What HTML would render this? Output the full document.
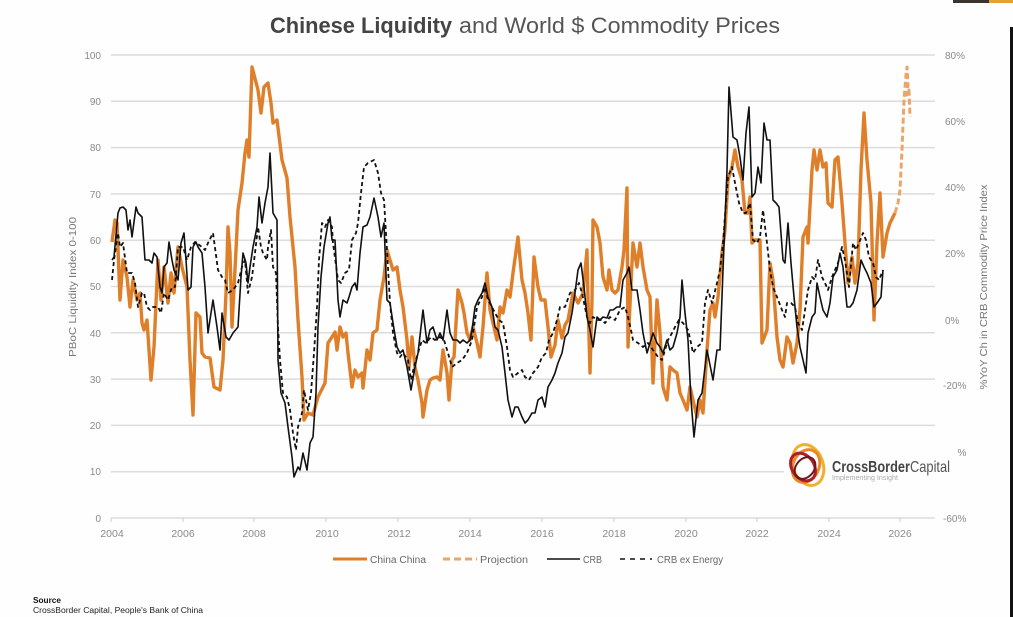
<!DOCTYPE html>
<html><head><meta charset="utf-8"><style>
html,body{margin:0;padding:0;background:#fefefe;}
svg{display:block;font-family:"Liberation Sans",sans-serif;}
</style></head><body>
<svg width="1013" height="617" viewBox="0 0 1013 617" xmlns="http://www.w3.org/2000/svg">
<rect width="1013" height="617" fill="#fefefe"/>
<!-- top-right artifacts -->
<rect x="953" y="0" width="36" height="3" fill="#3a3530"/>
<rect x="989" y="0" width="24" height="3" fill="#e8a030"/>
<rect x="1010" y="27" width="3" height="590" fill="#111"/>

<!-- title -->
<text x="270" y="33" font-size="22" font-weight="bold" fill="#444" textLength="182" lengthAdjust="spacingAndGlyphs">Chinese Liquidity</text>
<text x="459" y="33" font-size="22" fill="#555" textLength="321" lengthAdjust="spacingAndGlyphs">and World $ Commodity Prices</text>

<!-- gridlines -->
<g stroke="#dcdcdc" stroke-width="1.5">
<line x1="111" y1="55" x2="935" y2="55"/>
<line x1="111" y1="101.3" x2="935" y2="101.3"/>
<line x1="111" y1="147.6" x2="935" y2="147.6"/>
<line x1="111" y1="193.9" x2="935" y2="193.9"/>
<line x1="111" y1="240.2" x2="935" y2="240.2"/>
<line x1="111" y1="286.5" x2="935" y2="286.5"/>
<line x1="111" y1="332.8" x2="935" y2="332.8"/>
<line x1="111" y1="379.1" x2="935" y2="379.1"/>
<line x1="111" y1="425.4" x2="935" y2="425.4"/>
<line x1="111" y1="471.7" x2="935" y2="471.7"/>
<line x1="111" y1="518" x2="935" y2="518"/>
</g>
<g stroke="#cfcfcf" stroke-width="1">
<line x1="111" y1="518" x2="111" y2="522"/><line x1="183" y1="518" x2="183" y2="522"/>
<line x1="254" y1="518" x2="254" y2="522"/><line x1="326" y1="518" x2="326" y2="522"/>
<line x1="398" y1="518" x2="398" y2="522"/><line x1="470" y1="518" x2="470" y2="522"/>
<line x1="542" y1="518" x2="542" y2="522"/><line x1="614" y1="518" x2="614" y2="522"/>
<line x1="686" y1="518" x2="686" y2="522"/><line x1="757" y1="518" x2="757" y2="522"/>
<line x1="829" y1="518" x2="829" y2="522"/><line x1="900" y1="518" x2="900" y2="522"/>
</g>

<!-- left ticks -->
<g font-size="10" fill="#8a8a8a" text-anchor="end">
<text x="101" y="59">100</text><text x="101" y="105">90</text><text x="101" y="151">80</text>
<text x="101" y="198">70</text><text x="101" y="244">60</text><text x="101" y="290">50</text>
<text x="101" y="337">40</text><text x="101" y="383">30</text><text x="101" y="429">20</text>
<text x="101" y="475">10</text><text x="101" y="522">0</text>
</g>
<!-- right ticks -->
<g font-size="10" fill="#8a8a8a">
<text x="945" y="59">80%</text><text x="945" y="125">60%</text><text x="945" y="191">40%</text>
<text x="945" y="257">20%</text><text x="945" y="324">0%</text><text x="943" y="389">-20%</text>
<text x="943" y="456">-40%</text><text x="943" y="522">-60%</text>
</g>
<!-- x ticks -->
<g font-size="10.5" fill="#8a8a8a" text-anchor="middle">
<text x="112" y="537">2004</text><text x="183" y="537">2006</text><text x="254" y="537">2008</text>
<text x="327" y="537">2010</text><text x="399" y="537">2012</text><text x="470" y="537">2014</text>
<text x="542" y="537">2016</text><text x="614" y="537">2018</text><text x="686" y="537">2020</text>
<text x="757" y="537">2022</text><text x="829" y="537">2024</text><text x="900" y="537">2026</text>
</g>
<!-- axis titles -->
<text transform="translate(76,287) rotate(-90)" font-size="10" fill="#777" text-anchor="middle" textLength="140" lengthAdjust="spacingAndGlyphs">PBoC Liquidity Index 0-100</text>
<text transform="translate(987,287) rotate(-90)" font-size="10.5" fill="#777" text-anchor="middle" textLength="205" lengthAdjust="spacingAndGlyphs">%YoY Ch in CRB Commodity Price Index</text>

<!-- orange China liquidity -->
<polyline fill="none" stroke="#df7f2a" stroke-width="3.4" stroke-linejoin="round" points="112,242 115,220 117,223 120,300 123,260 127,277 130,307 133,280 137,300 140,293 142,323 144,330 147,320 151,380 154,347 158,260 161,300 164,267 168,303 171,273 174,293 178,247 182,267 187,287 190,360 193,415 196,313 200,317 202,353 205,357 210,358 214,387 220,390 223,360 226,293 228,227 230,253 232,327 236,250 238,210 242,183 245,153 247,140 249,157 252,67 258,90 261,113 264,87 268,83 271,103 273,123 277,120 282,160 287,178 290,217 295,267 298,320 302,377 304,420 308,413 313,415 318,397 325,383 328,343 332,337 335,332 337,350 340,327 343,337 346,333 348,353 352,387 355,370 358,377 362,373 363,388 367,350 370,360 373,333 377,330 380,300 384,277 387,250 390,260 393,270 397,267 400,290 403,307 407,340 409,367 412,337 415,367 418,380 422,403 423,417 427,390 430,380 433,378 437,377 440,380 443,350 447,373 449,400 452,360 454,357 458,290 462,303 464,313 467,333 470,340 473,327 477,343 480,357 483,327 487,273 490,310 493,323 497,340 500,307 503,313 507,290 510,297 513,273 518,237 522,280 525,293 528,313 531,340 534,257 538,287 541,300 545,300 548,327 551,357 555,345 558,320 562,338 565,325 568,320 573,293 578,303 583,293 587,250 588,300 590,373 592,300 593,220 597,227 600,243 603,277 607,290 609,270 612,290 615,293 618,290 622,267 624,250 627,188 628,347 631,283 633,243 637,267 640,243 643,267 647,290 650,297 653,383 657,300 660,333 663,387 667,400 670,367 673,370 677,373 680,393 683,400 687,410 690,387 693,400 697,417 700,400 703,413 707,350 710,310 713,303 715,317 718,297 722,253 725,230 728,180 732,167 735,150 738,167 742,180 745,213 748,213 750,197 752,243 755,240 760,240 762,343 767,330 770,263 773,280 777,337 780,360 783,367 787,337 790,343 793,363 797,343 800,310 803,237 807,227 808,243 812,170 814,150 817,170 820,150 823,167 826,163 828,203 832,207 835,160 838,157 842,203 845,243 848,283 852,257 855,283 858,263 861,170 864,113 867,160 871,203 874,320 877,243 880,193 883,257 887,233 890,223 895,213"/>
<!-- projection -->
<polyline fill="none" stroke="#eaa56a" stroke-width="3" stroke-dasharray="6 3" stroke-linejoin="round" points="895,213 898,203 900,190 902,150 904,100 906,75 907,67 908,85 907,95 909,90 910,117"/>

<!-- CRB solid -->
<polyline fill="none" stroke="#111" stroke-width="1.6" stroke-linejoin="round" points="112,260 114,257 118,213 120,208 123,207 126,210 128,230 130,220 132,237 136,207 138,213 142,217 145,260 149,260 152,263 154,253 157,257 160,287 162,293 164,267 167,263 169,242 172,260 174,270 178,280 181,243 184,233 186,260 188,290 191,287 193,247 196,242 198,247 202,253 205,287 208,333 211,313 213,300 217,327 220,350 222,313 226,337 229,340 233,333 238,327 241,277 243,253 246,263 248,283 250,267 253,247 257,227 259,197 262,223 265,203 268,187 270,153 273,213 277,220 278,360 281,393 285,403 288,427 292,457 294,477 298,467 300,470 303,453 307,470 310,443 313,437 316,393 318,327 321,277 324,247 328,223 330,217 332,240 335,240 338,300 340,317 343,300 347,303 349,297 352,287 355,283 357,290 360,253 363,227 367,225 370,217 374,198 378,217 381,237 384,223 387,300 390,303 393,323 397,347 400,353 403,350 407,367 411,390 415,367 418,353 423,310 427,343 430,330 433,327 437,340 440,333 443,340 447,310 450,333 453,340 457,340 460,343 463,340 467,343 470,340 472,330 475,307 478,300 482,293 485,283 488,297 492,307 495,327 498,330 502,347 505,373 508,400 512,417 515,407 518,407 522,417 525,423 528,420 532,413 535,413 538,400 542,397 545,407 548,387 552,380 555,373 558,363 562,353 565,337 568,333 572,313 575,293 578,270 581,263 584,287 587,317 590,330 593,347 597,317 600,320 603,317 607,318 610,310 613,310 617,307 620,307 623,280 627,273 629,267 632,290 637,290 640,310 643,333 647,353 650,343 653,333 657,343 660,347 663,353 667,340 670,350 673,347 677,333 680,317 682,280 685,313 688,340 691,400 694,437 698,400 702,393 707,350 713,380 717,350 720,350 723,270 727,170 729,87 733,137 737,140 740,157 743,180 746,133 749,107 752,197 755,193 758,167 761,183 764,123 767,140 770,140 773,200 776,203 779,207 783,260 785,263 788,223 791,263 794,297 797,327 800,347 803,360 806,373 808,333 812,317 815,313 817,283 820,297 823,310 827,317 830,303 833,277 837,270 840,253 843,267 847,307 850,307 853,303 857,290 861,260 864,267 867,273 871,283 874,307 877,303 881,297 883,270"/>

<!-- CRB ex energy dashed -->
<polyline fill="none" stroke="#111" stroke-width="1.8" stroke-dasharray="4 3" stroke-linejoin="round" points="112,280 114,260 118,233 120,247 123,243 127,273 132,273 135,283 138,307 142,293 144,293 147,307 150,310 153,307 158,307 161,313 164,293 168,300 172,287 175,287 178,247 183,247 187,260 191,247 195,242 202,247 205,250 208,243 213,233 218,270 222,277 225,280 228,293 233,290 238,283 242,267 245,260 248,293 252,277 255,253 258,227 261,247 263,253 267,260 268,247 271,230 273,267 276,273 278,327 280,360 283,393 287,397 290,410 293,433 296,450 298,427 302,413 304,390 308,410 311,393 314,353 317,307 319,260 322,223 325,227 328,220 332,227 333,243 338,280 341,283 345,273 349,270 352,240 356,233 358,223 361,193 364,167 368,163 374,160 378,173 381,193 384,200 387,250 390,303 393,333 397,353 400,357 403,353 408,360 411,380 414,367 418,353 422,340 426,343 431,337 435,340 440,337 444,340 448,353 452,367 457,363 462,360 467,353 472,340 477,307 482,297 485,287 488,300 492,307 495,313 499,320 503,323 507,347 510,370 513,377 518,373 522,370 525,377 529,380 533,373 538,367 542,357 546,353 549,340 553,333 557,320 560,307 565,307 570,293 575,290 579,283 582,293 587,317 590,323 593,317 598,320 602,320 605,323 610,317 615,320 620,310 625,307 628,317 631,330 633,340 638,343 643,347 648,343 653,350 658,357 662,360 665,350 668,340 672,333 675,327 679,320 683,323 688,330 691,343 693,353 697,347 702,343 705,303 708,290 712,303 717,283 720,270 723,243 726,203 728,177 732,167 735,183 739,203 743,213 746,213 750,203 753,240 757,243 760,237 763,210 767,243 770,270 773,287 777,297 782,310 785,317 787,303 791,303 795,307 798,323 802,330 805,310 808,290 812,277 815,280 818,260 822,277 825,283 828,290 832,277 835,270 838,263 842,247 845,260 849,287 853,243 856,250 859,243 863,233 866,240 869,257 873,263 876,277 879,280 883,270"/>

<!-- logo -->
<rect x="784" y="440" width="173" height="52" fill="#fefefe"/>
<g fill="none" stroke-width="3">
<ellipse cx="808" cy="465" rx="15" ry="21" stroke="#f0b030" transform="rotate(-20 808 465)"/>
<ellipse cx="806" cy="466" rx="13" ry="17" stroke="#e88a2a" transform="rotate(25 806 466)"/>
<ellipse cx="803" cy="467" rx="11" ry="15" stroke="#b01e2a" transform="rotate(-35 803 467)"/>
<ellipse cx="805" cy="468" rx="9" ry="12" stroke="#6a1a20" stroke-width="2" transform="rotate(40 805 468)"/>
</g>
<text x="832" y="472" font-size="16" font-weight="bold" fill="#444" textLength="78" lengthAdjust="spacingAndGlyphs">CrossBorder</text>
<text x="910" y="472" font-size="16" fill="#555" textLength="40" lengthAdjust="spacingAndGlyphs">Capital</text>
<text x="832" y="480" font-size="7" fill="#aaa" textLength="66" lengthAdjust="spacingAndGlyphs">Implementing Insight</text>

<!-- legend -->
<g font-size="10" fill="#666">
<line x1="333" y1="559" x2="367" y2="559" stroke="#df7f2a" stroke-width="3"/>
<text x="370" y="563" textLength="56" lengthAdjust="spacingAndGlyphs">China China</text>
<line x1="443" y1="559" x2="477" y2="559" stroke="#eaa56a" stroke-width="3" stroke-dasharray="7 4"/>
<text x="480" y="563" textLength="48" lengthAdjust="spacingAndGlyphs">Projection</text>
<line x1="547" y1="559" x2="580" y2="559" stroke="#111" stroke-width="1.6"/>
<text x="583" y="563" textLength="19" lengthAdjust="spacingAndGlyphs">CRB</text>
<line x1="620" y1="559" x2="652" y2="559" stroke="#111" stroke-width="1.6" stroke-dasharray="5 5"/>
<text x="657" y="563" textLength="66" lengthAdjust="spacingAndGlyphs">CRB ex Energy</text>
</g>

<!-- source -->
<text x="33" y="603" font-size="8" font-weight="bold" fill="#111" textLength="28" lengthAdjust="spacingAndGlyphs">Source</text>
<text x="33" y="613" font-size="8" fill="#222" textLength="170" lengthAdjust="spacingAndGlyphs">CrossBorder Capital, People's Bank of China</text>
</svg>
</body></html>
